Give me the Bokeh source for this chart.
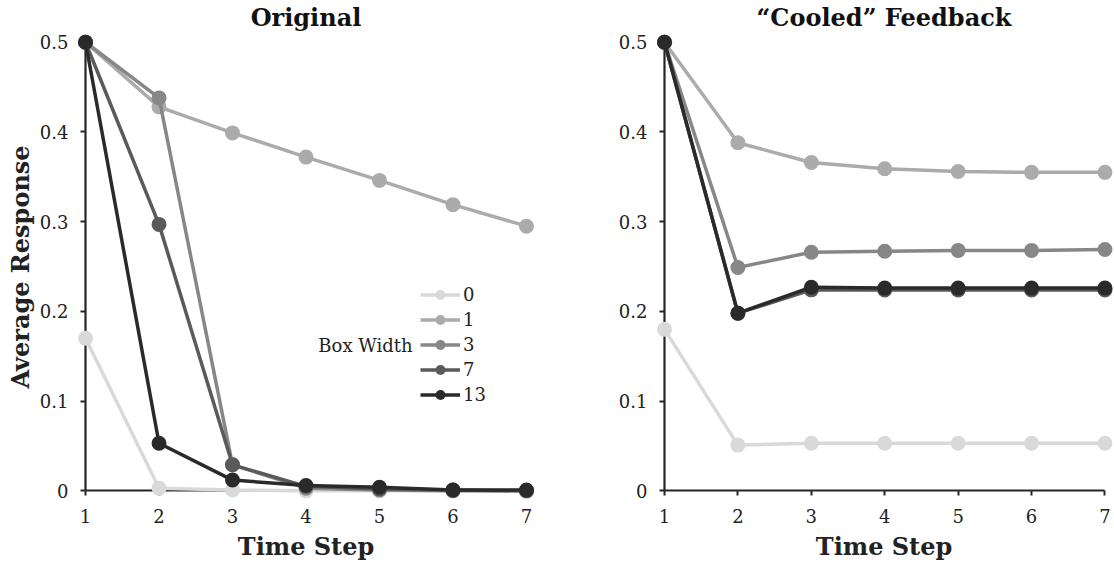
from bokeh.plotting import figure
from bokeh.layouts import row
from bokeh.models import FixedTicker, Range1d, Label, LinearAxis
from bokeh.embed import file_html
from bokeh.resources import INLINE

# Time steps on the x axis
time_steps = [1, 2, 3, 4, 5, 6, 7]

# Box widths (legend entries) and their grey shades
box_widths = ["0", "1", "3", "7", "13"]
shades = ["#d9d9d9", "#ababab", "#878787", "#5a5a5a", "#2a2a2a"]

# "Original" panel: average response per box width
original_w0 = [0.170, 0.003, 0.001, 0.000, 0.000, 0.000, 0.000]
original_w1 = [0.500, 0.428, 0.399, 0.372, 0.346, 0.319, 0.295]
original_w3 = [0.500, 0.438, 0.029, 0.003, 0.001, 0.000, 0.000]
original_w7 = [0.500, 0.297, 0.029, 0.005, 0.002, 0.001, 0.000]
original_w13 = [0.500, 0.053, 0.012, 0.006, 0.004, 0.001, 0.001]

# "Cooled" feedback panel
cooled_w0 = [0.180, 0.051, 0.053, 0.053, 0.053, 0.053, 0.053]
cooled_w1 = [0.500, 0.388, 0.366, 0.359, 0.356, 0.355, 0.355]
cooled_w3 = [0.500, 0.249, 0.266, 0.267, 0.268, 0.268, 0.269]
cooled_w7 = [0.500, 0.198, 0.224, 0.224, 0.224, 0.224, 0.224]
cooled_w13 = [0.500, 0.198, 0.227, 0.226, 0.226, 0.226, 0.226]

# Axis ticks and labels
y_ticks = [0, 0.1, 0.2, 0.3, 0.4, 0.5]
y_tick_labels = ["0", "0.1", "0.2", "0.3", "0.4", "0.5"]

SERIF = "DejaVu Serif"
AXIS_COLOR = "#262626"
TEXT_COLOR = "#222222"


def spine(ticks, loc, bounds):
    """Axis line + ticks pinned at a data location (x = 1 or y = 0)."""
    ax = LinearAxis(ticker=FixedTicker(ticks=ticks), fixed_location=loc, bounds=bounds)
    ax.axis_line_color = AXIS_COLOR
    ax.axis_line_width = 2.2
    ax.major_tick_line_color = AXIS_COLOR
    ax.major_tick_line_width = 2
    ax.major_tick_in = 5   # points away from the data area on the above/right sides
    ax.major_tick_out = 0
    ax.minor_tick_line_color = None
    ax.major_label_text_font_size = "0px"
    ax.major_label_text_alpha = 0
    ax.major_label_standoff = 0
    return ax


def make_panel(title, series, left_border, x_end, right_border, show_legend, show_ylabel):
    p = figure(
        width=557, height=563,
        x_range=Range1d(0.85, x_end), y_range=Range1d(-0.013, 0.512),
        output_backend="svg", toolbar_location=None,
        min_border_left=left_border, min_border_right=right_border,
        min_border_top=30, min_border_bottom=60,
    )
    p.outline_line_color = None
    p.xgrid.visible = False
    p.ygrid.visible = False
    p.background_fill_color = "white"
    p.border_fill_color = "white"

    p.title.text = title
    p.title.align = "center"
    p.title.text_font = SERIF
    p.title.text_font_size = "24px"
    p.title.text_font_style = "bold"
    p.title.text_color = "#111111"
    p.title.standoff = 0

    # lines and markers are drawn above the axis lines
    for name, shade, ys in zip(box_widths, shades, series):
        kw = {"legend_label": name} if show_legend else {}
        p.line(time_steps, ys, line_color=shade, line_width=3.5,
               level="annotation", **kw)
        p.scatter(time_steps, ys, size=15, fill_color=shade, line_color=None,
                  level="annotation", **kw)

    # tick labels and axis titles live on the regular side axes
    for ax in (p.xaxis[0], p.yaxis[0]):
        ax.axis_line_color = None
        ax.major_tick_line_color = None
        ax.minor_tick_line_color = None
        ax.major_tick_in = 0
        ax.major_tick_out = 0
        ax.major_label_text_font = SERIF
        ax.major_label_text_font_size = "18px"
        ax.major_label_text_color = TEXT_COLOR
        ax.axis_label_text_font = SERIF
        ax.axis_label_text_font_size = "24px"
        ax.axis_label_text_font_style = "bold"
        ax.axis_label_text_color = TEXT_COLOR

    xa = p.xaxis[0]
    xa.ticker = FixedTicker(ticks=time_steps)
    xa.major_label_standoff = 6
    xa.axis_label = "Time Step"
    xa.axis_label_standoff = 6

    ya = p.yaxis[0]
    ya.ticker = FixedTicker(ticks=y_ticks)
    ya.major_label_overrides = dict(zip(y_ticks, y_tick_labels))
    ya.major_label_standoff = 6
    if show_ylabel:
        ya.axis_label = "Average Response"
        ya.axis_label_standoff = 2

    # the visible spines cross at (1, 0)
    p.add_layout(spine(time_steps, 0, (1, 7)), "above")
    p.add_layout(spine(y_ticks, 1, (0, 0.5)), "right")

    if show_legend:
        lg = p.legend[0]
        lg.location = (346, 95)
        lg.padding = 0
        lg.margin = 0
        lg.spacing = 0
        lg.glyph_width = 40
        lg.glyph_height = 25
        lg.label_height = 25
        lg.label_standoff = 3
        lg.label_text_font = SERIF
        lg.label_text_font_size = "18px"
        lg.label_text_color = TEXT_COLOR
        lg.border_line_color = None
        lg.background_fill_alpha = 0
        p.add_layout(Label(x=5.45, y=0.162, text="Box Width", text_align="right",
                           text_baseline="middle", text_font=SERIF,
                           text_font_size="18px", text_color=TEXT_COLOR))
    return p


left = make_panel("Original",
                  [original_w0, original_w1, original_w3, original_w7, original_w13],
                  74, 7.15, 20, True, True)
right = make_panel("\u201cCooled\u201d Feedback",
                   [cooled_w0, cooled_w1, cooled_w3, cooled_w7, cooled_w13],
                   96, 7.13, 0, False, False)

layout = row(left, right)
open("out.html", "w").write(file_html(layout, INLINE))
